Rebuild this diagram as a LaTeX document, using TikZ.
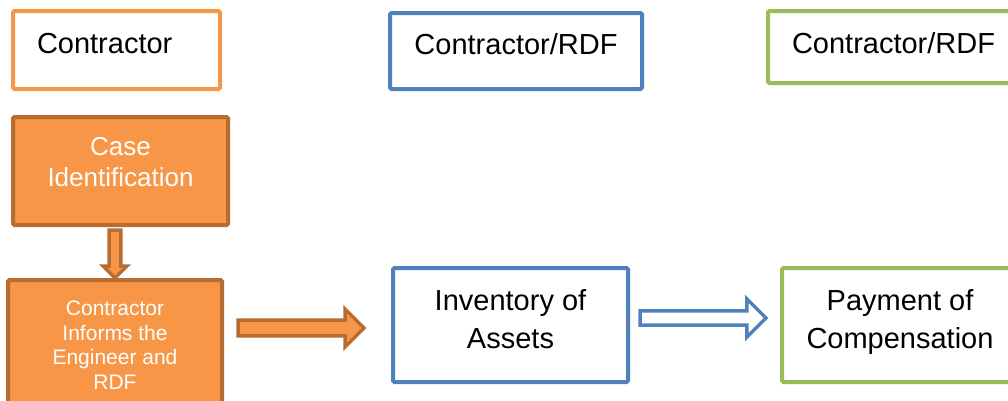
\documentclass[tikz,border=0pt]{standalone}
\usepackage{fontspec}
\setmainfont{Liberation Sans}
\usetikzlibrary{shapes.arrows,positioning,calc}
\definecolor{orng}{HTML}{F79646}
\definecolor{orngdark}{HTML}{B66D31}
\definecolor{blu}{HTML}{4F81BD}
\definecolor{grn}{HTML}{9BBB59}
\begin{document}
\begin{tikzpicture}[x=1pt,y=-1pt,
        box/.style={rectangle,draw,line width=4pt,rounded corners=1.5pt,inner sep=0pt,outer sep=0pt,anchor=north west,align=center},
        hdr/.style={box,font=\fontsize{29}{35}\selectfont},
        step box/.style={box,draw=orngdark,fill=orng,text=white},
        big/.style={font=\fontsize{29}{38}\selectfont},
        blockarrow/.style={single arrow,draw,line width=3.5pt,outer sep=0pt,anchor=tip,minimum width=38pt,minimum height=126pt}]
    \useasboundingbox (0,0) rectangle (1008,400);
    % column headers
    \node[hdr,draw=orng,minimum width=207pt,minimum height=78pt,text width=159pt,align=left,text depth=14pt] (hdrContr) at (13,11) {Contractor};
    \node[hdr,draw=blu,minimum width=252pt,minimum height=76pt,text depth=14pt] (hdrInv) at (390,13) {Contractor/RDF};
    \node[hdr,draw=grn,minimum width=260pt,minimum height=72pt,text width=212pt,align=left,text depth=8pt] (hdrPay) at (768,11) {Contractor/RDF};
    % steps
    \node[step box,font=\fontsize{26}{31}\selectfont,minimum width=215pt,minimum height=108pt,text depth=18pt] (case) at (13,117) {Case\\Identification};
    \node[step box,font=\fontsize{21}{24.5}\selectfont,minimum width=214pt,minimum height=140pt,text depth=10pt] (inform) at (8,280) {Contractor\\Informs the\\Engineer and\\RDF};
    \node[box,big,draw=blu,minimum width=235pt,minimum height=114pt,text depth=12pt] (inventory) at (393,268) {Inventory of\\Assets};
    \node[box,big,draw=grn,minimum width=236pt,minimum height=114pt,text depth=12pt] (payment) at (782,268) {Payment of\\Compensation};
    % arrows
    \node[blockarrow,draw=orngdark,fill=orng,shape border rotate=270,inner sep=4.2pt,minimum width=24pt,minimum height=48pt,single arrow head extend=6pt] (down) at ([yshift=2pt]inform.north) {};
    \node[blockarrow,draw=orngdark,fill=orng,inner sep=6pt,single arrow head extend=11pt] (toInv) at ([xshift=-29pt,yshift=-3pt]inventory.west) {};
    \node[blockarrow,draw=blu,fill=white,inner sep=5.3pt,single arrow head extend=12pt] (toPay) at ([xshift=-16pt,yshift=7pt]payment.west) {};
\end{tikzpicture}
\end{document}
